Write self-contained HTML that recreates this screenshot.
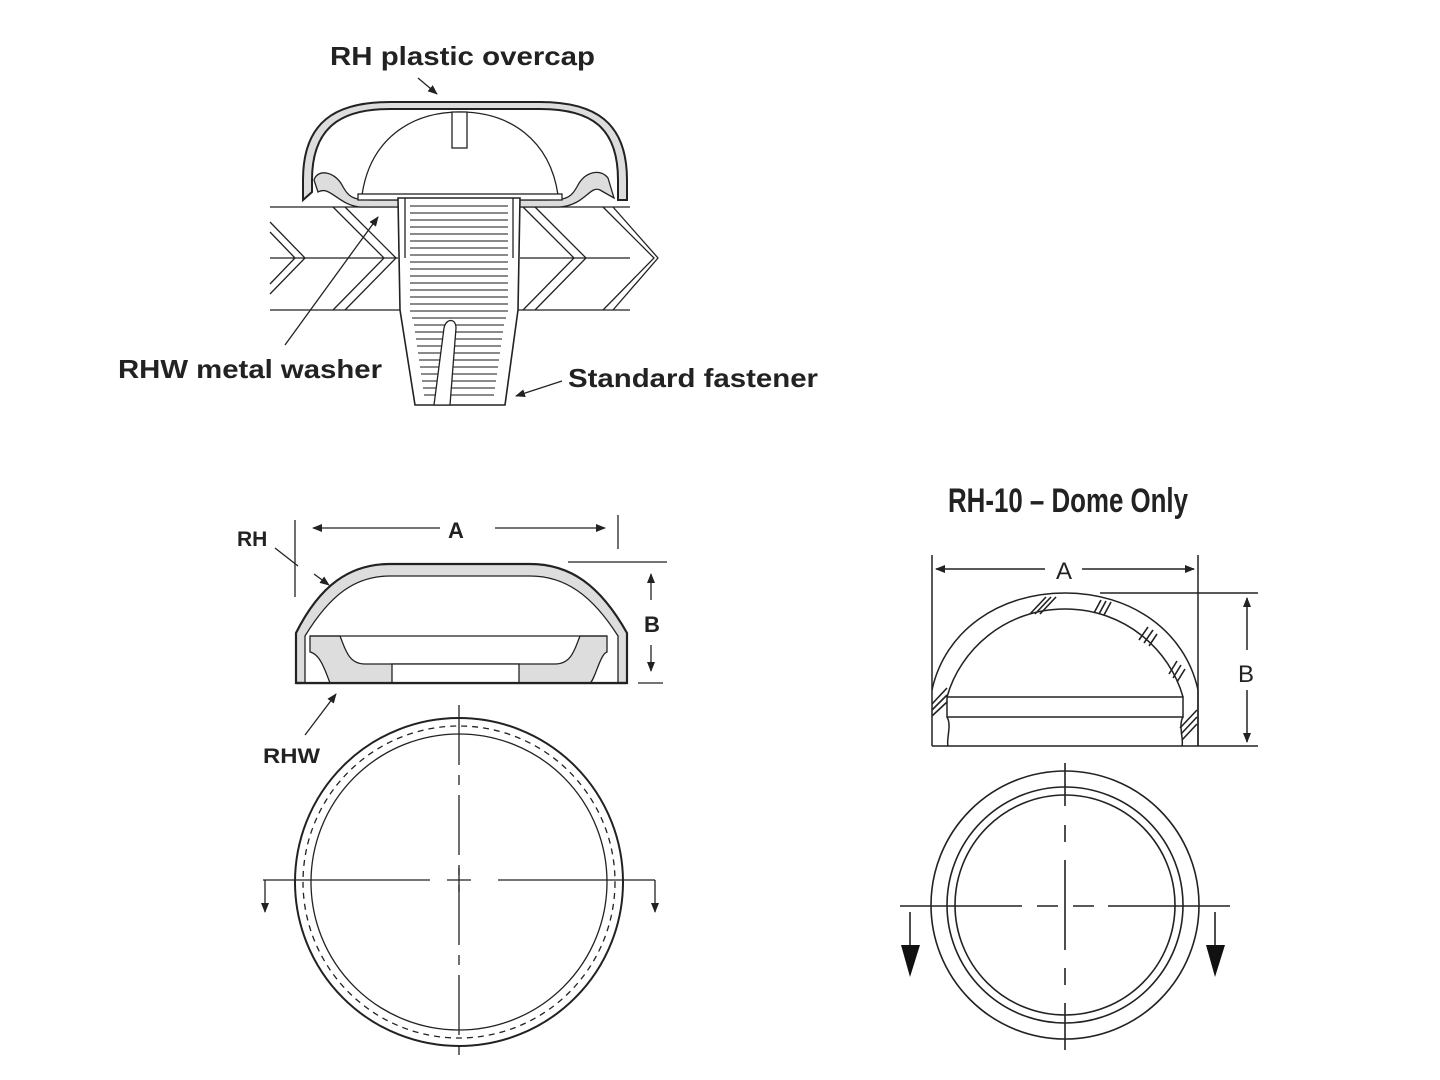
<!DOCTYPE html>
<html><head><meta charset="utf-8"><style>
html,body{margin:0;padding:0;background:#fff;}
svg{display:block}
.t{font-family:"Liberation Sans",sans-serif;font-weight:bold;fill:#222;}
</style></head><body>
<svg width="1440" height="1080" viewBox="0 0 1440 1080" xmlns="http://www.w3.org/2000/svg">
<defs>
<marker id="a" markerWidth="10" markerHeight="8" refX="9" refY="4" orient="auto" markerUnits="userSpaceOnUse"><path d="M0,0 L10,4 L0,8 Z" fill="#222"/></marker>
</defs>
<g fill="none" stroke="#222" stroke-width="1.3">
<line x1="270" y1="207" x2="398" y2="207"/><line x1="520" y1="207" x2="630" y2="207"/>
<line x1="270" y1="258" x2="398" y2="258"/><line x1="520" y1="258" x2="630" y2="258"/>
<line x1="270" y1="310" x2="400" y2="310"/><line x1="518" y1="310" x2="630" y2="310"/>
<polyline points="270,222 305,258 270,294"/><polyline points="270,232 295,258 270,284"/>
<polyline points="333,207 384,258 333,310"/><polyline points="345,207 396,258 345,310"/>
<polyline points="523,207 574,258 523,310"/><polyline points="535,207 586,258 535,310"/>
<polyline points="603,207 654,258 603,310"/><polyline points="613,207 658,258 613,310"/>
<path d="M303,200 L303,180 C303,122 335,102 390,102 L540,102 C595,102 627,122 627,180 L627,200 L618,200 L618,180 C618,128 592,109 540,109 L390,109 C340,109 312,128 312,180 L312,192 Z" fill="#ddd" stroke-width="2"/>
<path d="M314,180 C318,168 335,172 342,185 C350,200 355,200 380,200 L540,200 C565,200 570,200 578,185 C585,172 600,168 608,178 L614,198 L600,190 C590,185 585,205 560,207 L360,207 C338,205 330,185 318,192 Z" fill="#ddd"/>
<path d="M362,195 C370,140 410,112 460,112 C510,112 550,140 558,195" fill="#fff"/>
<rect x="358" y="194" width="204" height="6" fill="#fff"/>
<rect x="452" y="112" width="15" height="36" fill="#fff"/>
<path d="M398,198 L520,198 L518,310 L505,405 L415,405 L400,310 Z" fill="#fff" stroke-width="1.6"/>
<line x1="405" y1="198" x2="405" y2="258"/><line x1="513" y1="198" x2="513" y2="258"/>
</g>
<g stroke="#444" stroke-width="1.2">
<line x1="410" y1="206" x2="508" y2="206"/><line x1="410" y1="213" x2="508" y2="213"/><line x1="410" y1="220" x2="508" y2="220"/><line x1="410" y1="227" x2="508" y2="227"/><line x1="410" y1="234" x2="508" y2="234"/><line x1="410" y1="241" x2="508" y2="241"/><line x1="410" y1="248" x2="508" y2="248"/><line x1="410" y1="255" x2="508" y2="255"/><line x1="410" y1="262" x2="508" y2="262"/><line x1="410" y1="269" x2="508" y2="269"/><line x1="410" y1="276" x2="508" y2="276"/><line x1="410" y1="283" x2="508" y2="283"/><line x1="410" y1="290" x2="508" y2="290"/><line x1="410" y1="297" x2="508" y2="297"/><line x1="410" y1="304" x2="508" y2="304"/><line x1="410" y1="311" x2="508" y2="311"/><line x1="412" y1="318" x2="506" y2="318"/><line x1="414" y1="325" x2="504" y2="325"/><line x1="415" y1="332" x2="503" y2="332"/><line x1="416" y1="339" x2="502" y2="339"/><line x1="417" y1="346" x2="501" y2="346"/><line x1="418" y1="353" x2="500" y2="353"/><line x1="419" y1="360" x2="499" y2="360"/><line x1="420" y1="367" x2="498" y2="367"/><line x1="421" y1="374" x2="497" y2="374"/><line x1="422" y1="381" x2="496" y2="381"/><line x1="423" y1="388" x2="495" y2="388"/><line x1="424" y1="395" x2="494" y2="395"/>
</g>
<path d="M434,405 L444,328 C446,318 456,318 456,328 L450,405 Z" fill="#fff" stroke="#222" stroke-width="1.3"/>
<g stroke="#222" stroke-width="1.3" fill="none">
<line x1="418" y1="78" x2="437" y2="94" marker-end="url(#a)"/>
<line x1="285" y1="345" x2="378" y2="217" marker-end="url(#a)"/>
<line x1="562" y1="381" x2="516" y2="396" marker-end="url(#a)"/>
</g>
<text class="t" x="330" y="65" font-size="26" textLength="265" lengthAdjust="spacingAndGlyphs">RH plastic overcap</text>
<text class="t" x="118" y="378" font-size="26" textLength="264" lengthAdjust="spacingAndGlyphs">RHW metal washer</text>
<text class="t" x="568" y="387" font-size="26" textLength="250" lengthAdjust="spacingAndGlyphs">Standard fastener</text>

<g fill="none" stroke="#222" stroke-width="1.3">
<path d="M296,683 L296,633 C320,585 350,564 390,564 L530,564 C570,564 600,585 627,633 L627,683 Z" fill="#ddd" stroke-width="2.2"/>
<path d="M305,683 L305,636 C330,595 355,576 390,576 L530,576 C565,576 592,595 618,636 L618,683 Z" fill="#fff"/>
<path d="M310,636 L340,636 C345,648 348,664 365,664 L555,664 C572,664 575,648 580,636 L607,636 L607,652 C600,654 595,680 590,683 L330,683 C325,670 320,654 310,652 Z" fill="#ddd"/>
<line x1="310" y1="636" x2="607" y2="636"/>
<rect x="392" y="664" width="127" height="19" fill="#fff"/>
<line x1="296" y1="683" x2="627" y2="683" stroke-width="2.2"/>
<line x1="295" y1="520" x2="295" y2="597"/><line x1="618" y1="515" x2="618" y2="549"/>
<line x1="440" y1="528" x2="313" y2="528" marker-end="url(#a)"/><line x1="495" y1="528" x2="605" y2="528" marker-end="url(#a)"/>
<line x1="568" y1="562" x2="667" y2="562"/><line x1="638" y1="683" x2="663" y2="683"/>
<line x1="651" y1="600" x2="651" y2="574" marker-end="url(#a)"/><line x1="651" y1="645" x2="651" y2="671" marker-end="url(#a)"/>
<line x1="275" y1="548" x2="298" y2="566"/><line x1="314" y1="574" x2="329" y2="585" marker-end="url(#a)"/>
<line x1="305" y1="735" x2="336" y2="694" marker-end="url(#a)"/>
<circle cx="459" cy="882" r="164" stroke-width="2"/>
<circle cx="459" cy="882" r="156" stroke-dasharray="6,5"/>
<circle cx="459" cy="882" r="148"/>
<line x1="459" y1="705" x2="459" y2="1055" stroke-dasharray="60,10,10,10"/>
<line x1="263" y1="880" x2="430" y2="880"/><line x1="447" y1="880" x2="471" y2="880"/><line x1="498" y1="880" x2="655" y2="880"/>
<line x1="459" y1="868" x2="459" y2="892"/>
<line x1="265" y1="880" x2="265" y2="912" marker-end="url(#a)"/><line x1="655" y1="880" x2="655" y2="912" marker-end="url(#a)"/>
</g>
<text class="t" x="448" y="538" font-size="22">A</text>
<text class="t" x="644" y="632" font-size="22">B</text>
<text class="t" x="237" y="546" font-size="21">RH</text>
<text class="t" x="263" y="763" font-size="21" textLength="57" lengthAdjust="spacingAndGlyphs">RHW</text>

<text class="t" x="948" y="512" font-size="34" textLength="240" lengthAdjust="spacingAndGlyphs">RH-10 – Dome Only</text>
<g fill="none" stroke="#222" stroke-width="1.5">
<path d="M932,746 L932,690 C945,630 1000,593 1065,593 C1130,593 1185,630 1198,690 L1198,746"/>
<path d="M947,697 C960,650 1005,609 1065,609 C1125,609 1170,650 1183,697"/>
<rect x="947" y="697" width="236" height="20" fill="#fff"/>
<path d="M947,717 C952,725 946,740 948,746"/><path d="M1183,717 C1178,725 1184,740 1182,746"/>
<line x1="932" y1="746" x2="1258" y2="746"/>
<line x1="932" y1="555" x2="932" y2="690"/><line x1="1198" y1="555" x2="1198" y2="746"/>
<line x1="1045" y1="569" x2="936" y2="569" marker-end="url(#a)"/><line x1="1082" y1="569" x2="1194" y2="569" marker-end="url(#a)"/>
<line x1="1100" y1="593" x2="1258" y2="593"/>
<line x1="1247" y1="650" x2="1247" y2="598" marker-end="url(#a)"/><line x1="1247" y1="690" x2="1247" y2="742" marker-end="url(#a)"/>
</g>
<g stroke="#222" stroke-width="1.6">
<line x1="1030" y1="614" x2="1046" y2="597"/><line x1="1035" y1="614" x2="1051" y2="597"/><line x1="1040" y1="614" x2="1056" y2="597"/>
<line x1="1094" y1="613" x2="1101" y2="600"/><line x1="1099" y1="614" x2="1106" y2="601"/><line x1="1104" y1="615" x2="1111" y2="602"/>
<line x1="1139" y1="640" x2="1148" y2="627"/><line x1="1144" y1="643" x2="1153" y2="630"/><line x1="1149" y1="646" x2="1157" y2="634"/>
<line x1="1169" y1="674" x2="1177" y2="661"/><line x1="1173" y1="678" x2="1181" y2="665"/><line x1="1177" y1="682" x2="1185" y2="669"/>
<line x1="932" y1="704" x2="947" y2="688"/><line x1="932" y1="710" x2="947" y2="695"/><line x1="932" y1="716" x2="947" y2="702"/>
<line x1="1180" y1="728" x2="1197" y2="710"/><line x1="1181" y1="734" x2="1197" y2="717"/><line x1="1182" y1="740" x2="1197" y2="724"/>
</g>
<text x="1056" y="579" font-family="Liberation Sans,sans-serif" font-size="24" fill="#222">A</text>
<text x="1238" y="682" font-family="Liberation Sans,sans-serif" font-size="24" fill="#222">B</text>
<g fill="none" stroke="#222" stroke-width="1.6">
<circle cx="1065" cy="905" r="134"/><circle cx="1065" cy="905" r="118"/><circle cx="1065" cy="905" r="110"/>
<line x1="1065" y1="763" x2="1065" y2="806"/><line x1="1065" y1="825" x2="1065" y2="842"/><line x1="1065" y1="860" x2="1065" y2="950"/><line x1="1065" y1="968" x2="1065" y2="985"/><line x1="1065" y1="1003" x2="1065" y2="1050"/>
<line x1="900" y1="906" x2="1022" y2="906"/><line x1="1037" y1="906" x2="1058" y2="906"/><line x1="1073" y1="906" x2="1094" y2="906"/><line x1="1108" y1="906" x2="1230" y2="906"/>
<line x1="910" y1="912" x2="910" y2="945"/><line x1="1215" y1="912" x2="1215" y2="945"/>
</g>
<path d="M901,945 L920,945 L910,977 Z" fill="#111"/>
<path d="M1206,945 L1225,945 L1215,977 Z" fill="#111"/>
</svg>
</body></html>
